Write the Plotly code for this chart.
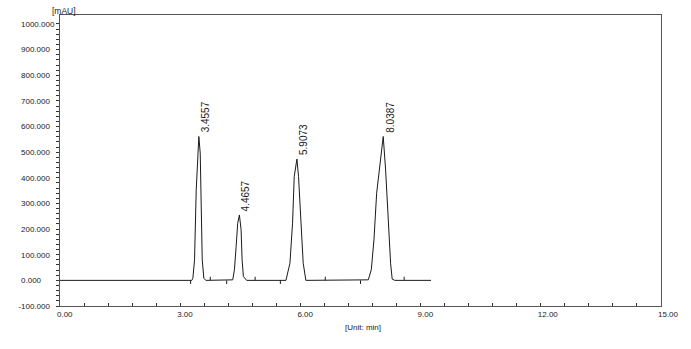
import plotly.graph_objects as go

# Chromatogram trace (time in min, signal in mAU)
time_min = [0.00, 3.29, 3.316, 3.358, 3.400, 3.465, 3.500, 3.525, 3.550, 3.590, 3.640,
            4.311, 4.353, 4.396, 4.435, 4.478, 4.520, 4.545, 4.577, 4.659,
            5.639, 5.739, 5.804, 5.846, 5.913, 5.953, 6.012, 6.070, 6.137,
            7.694, 7.769, 7.836, 7.903, 8.002, 8.067, 8.127, 8.192, 8.251, 8.291, 8.358,
            9.26]
signal_mau = [0, 0, 8, 80, 353, 561, 496, 340, 80, 8, 0,
              2, 41, 132, 223, 255, 197, 80, 15, 0,
              0, 67, 223, 405, 473, 405, 223, 67, 0,
              2, 41, 158, 340, 483, 561, 431, 223, 67, 5, 0,
              0]

# Peak labels (retention times) and apex heights
peak_rt = [3.4557, 4.4657, 5.9073, 8.0387]
peak_x = [3.465, 4.478, 5.913, 8.067]
peak_height = [561, 255, 473, 561]

# Integration start / end markers
peak_start = [3.26, 4.16, 5.50, 7.50]
peak_end = [3.75, 4.87, 6.62, 8.59]

y_ticks = [-100, 0, 100, 200, 300, 400, 500, 600, 700, 800, 900, 1000]
y_minor_step = 20
x_ticks = [0, 3, 6, 9, 12, 15]
x_minor_step = 0.6

FONT = "Arial, Liberation Sans, sans-serif"
TXT = "#222222"

def pad_label(s, n):
    return s + "\u2007" * max(0, n - sum(c.isdigit() for c in s))

# all tick positions (major + minor), labels only on majors
y_all = [y_ticks[0] + i * y_minor_step
         for i in range(int((y_ticks[-1] - y_ticks[0]) / y_minor_step) + 1)]
y_text = [pad_label(f"{v:.3f}", 7) if v in y_ticks else "" for v in y_all]
x_all = [round(i * x_minor_step, 6) for i in range(int(x_ticks[-1] / x_minor_step + 1e-9) + 1)]
x_text = [pad_label(f"{v:.2f}", 4) if any(abs(v - m) < 1e-6 for m in x_ticks) else "" for v in x_all]

fig = go.Figure()
fig.add_trace(go.Scatter(x=time_min, y=signal_mau, mode="lines",
                         line=dict(color="#1a1a1a", width=1), hoverinfo="skip"))

# marker ticks at baseline
mk = 14
mx, my = [], []
for t in peak_start:
    mx += [t, t, None]
    my += [0, -mk, None]
for t in peak_end:
    mx += [t, t, None]
    my += [0, mk, None]
fig.add_trace(go.Scatter(x=mx, y=my, mode="lines",
                         line=dict(color="#1a1a1a", width=1), hoverinfo="skip"))

for rt, px, h in zip(peak_rt, peak_x, peak_height):
    fig.add_annotation(x=px, y=h, text=f"{rt:.4f}", textangle=-90,
                       xanchor="left", yanchor="bottom", yshift=2, xshift=-1, showarrow=False,
                       font=dict(family=FONT, size=10, color="#1a1a1a"))

fig.add_annotation(x=0.504, y=-0.0756, xref="paper", yref="paper", text="[Unit: min]",
                   showarrow=False, xanchor="center", yanchor="middle",
                   font=dict(family=FONT, size=8, color=TXT))
fig.add_annotation(x=0.0066, y=1.0137, xref="paper", yref="paper", text="[mAU]",
                   showarrow=False, xanchor="center", yanchor="middle",
                   font=dict(family=FONT, size=8.5, color=TXT))

fig.update_layout(
    width=691, height=349, margin=dict(l=60, r=28, t=15, b=43),
    paper_bgcolor="white", plot_bgcolor="white", showlegend=False,
    font=dict(family=FONT, size=8, color=TXT),
    xaxis=dict(range=[0, 15], tickmode="array", tickvals=x_all, ticktext=x_text,
               ticks="inside", ticklen=3, tickcolor="#333", showgrid=False, zeroline=False,
               showline=True, linecolor="#555", linewidth=1, mirror=True,
               ticklabelshift=7),
    yaxis=dict(range=[-100, 1035], tickmode="array", tickvals=y_all, ticktext=y_text,
               ticks="outside", ticklen=3, tickcolor="#333", showgrid=False, zeroline=False,
               showline=True, linecolor="#555", linewidth=1, mirror=True),
)

fig.write_html("out.html")
